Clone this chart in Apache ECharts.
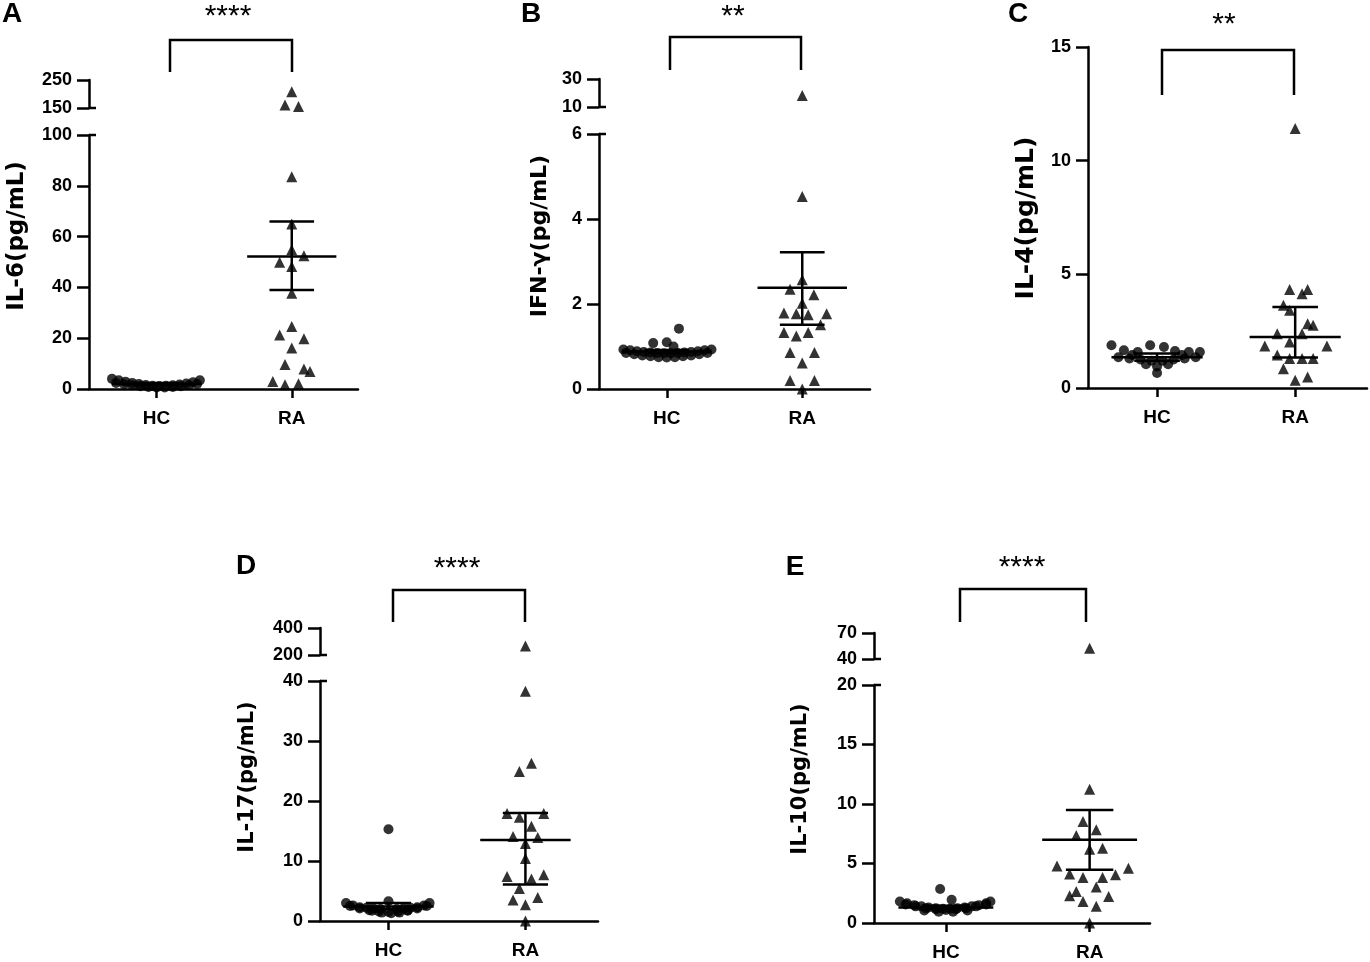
<!DOCTYPE html>
<html>
<head>
<meta charset="utf-8">
<script src="https://cdn.jsdelivr.net/npm/echarts@6.0.0/dist/echarts.min.js"></script>
<style>
  html, body { margin: 0; padding: 0; background: #fff; }
  #chart { width: 1370px; height: 962px; }
</style>
</head>
<body>
<div id="chart"></div>
<script>
  const groups = ['HC', 'RA']

  // ---- A: IL-6 ----
  const hcA = [4.0, 3.4, 2.9, 2.4, 2.0, 1.6, 1.3, 1.2, 1.3, 1.5, 1.8, 2.2, 2.7, 3.4,
    2.4, 1.9, 1.5, 1.1, 0.8, 0.6, 0.6, 0.8, 1.1, 1.5, 2.0]
  const hcAJitter = [-0.33, -0.28, -0.23, -0.18, -0.13, -0.08, -0.03, 0.02, 0.07, 0.12, 0.17, 0.22, 0.27, 0.32,
    -0.30, -0.24, -0.18, -0.12, -0.06, 0, 0.06, 0.12, 0.18, 0.24, 0.30]
  const raA = [208, 160.7, 155, 83.6, 65.0, 54.8, 49.9, 52.5, 48.2, 37.7, 21.3, 24.6, 19.8, 16.1, 9.6, 7.9, 6.9, 3.0, 1.7, 2.1]
  const raAJitter = [0, -0.05, 0.05, 0, 0, 0, -0.09, 0.09, 0, 0, -0.09, 0, 0.09, 0, -0.05, 0.09, 0.135, -0.14, -0.05, 0.05]
  const centerA = [2.0, 52.2]
  const lowA = [1.6, 39.0]
  const highA = [2.4, 65.9]
  const yTicksA = [0, 20, 40, 60, 80, 100]
  const yBreakTicksA = [150, 250]

  // ---- B: IFN-gamma ----
  const hcB = [0.93, 0.91, 0.89, 0.87, 0.86, 0.85, 0.84, 0.84, 0.85, 0.86, 0.87, 0.89, 0.91, 0.93,
    0.85, 0.82, 0.79, 0.77, 0.75, 0.74, 0.75, 0.77, 0.79, 0.82, 0.85,
    1.08, 1.10, 1.00, 1.42]
  const hcBJitter = [-0.32, -0.27, -0.22, -0.17, -0.12, -0.07, -0.02, 0.03, 0.08, 0.13, 0.18, 0.23, 0.28, 0.33,
    -0.30, -0.24, -0.18, -0.12, -0.06, 0, 0.06, 0.12, 0.18, 0.24, 0.30,
    -0.1, 0.0, 0.05, 0.09]
  const raB = [18.3, 4.53, 2.57, 2.35, 2.22, 2.02, 1.79, 1.77, 1.75, 1.77, 1.51, 1.33, 1.25, 1.33, 0.86, 0.86, 0.61, 0.20, 0.20, 0]
  const raBJitter = [0, 0, 0, -0.09, 0.086, 0, -0.135, -0.044, 0.044, 0.18, 0.135, -0.135, -0.044, 0.044, -0.09, 0.09, 0, -0.09, 0.09, 0]
  const centerB = [0.88, 2.38]
  const lowB = [0.84, 1.51]
  const highB = [0.92, 3.22]
  const yTicksB = [0, 2, 4, 6]
  const yBreakTicksB = [10, 30]

  // ---- C: IL-4 ----
  const hcC = [1.88, 1.66, 1.58, 1.88, 1.80, 1.63, 1.58, 1.58, 1.35, 1.30, 1.25, 1.20, 1.20, 1.25, 1.30, 1.35, 1.45, 1.45, 1.05, 0.95, 1.05, 0.66]
  const hcCJitter = [-0.33, -0.24, -0.14, -0.05, 0.05, 0.13, 0.23, 0.31, -0.28, -0.2, -0.12, -0.04, 0.04, 0.12, 0.2, 0.28, -0.18, 0.18, -0.08, 0, 0.08, 0]
  const raC = [11.41, 4.33, 4.33, 4.15, 3.64, 3.42, 2.83, 2.76, 2.39, 2.39, 2.02, 1.85, 1.85, 1.45, 1.30, 1.30, 1.30, 0.85, 0.34, 0.48]
  const raCJitter = [0, -0.04, 0.09, 0.05, -0.085, -0.04, 0.09, 0.13, -0.13, 0.05, -0.04, -0.22, 0.23, -0.13, -0.04, 0.05, 0.13, -0.085, 0, 0.09]
  const centerC = [1.35, 2.24]
  const lowC = [1.2, 1.34]
  const highC = [1.52, 3.56]
  const yTicksC = [0, 5, 10, 15]

  // ---- D: IL-17 ----
  const hcD = [3.0, 2.6, 2.3, 2.2, 2.1, 2.0, 3.3, 2.0, 2.1, 2.2, 2.3, 2.6, 3.0,
    2.5, 2.1, 1.8, 1.6, 1.5, 1.6, 1.8, 2.1, 2.5,
    1.7, 1.4, 1.3, 1.4, 1.7, 15.3]
  const hcDJitter = [-0.31, -0.26, -0.21, -0.16, -0.11, -0.06, 0, 0.06, 0.11, 0.16, 0.21, 0.26, 0.30,
    -0.28, -0.21, -0.14, -0.07, 0, 0.07, 0.14, 0.21, 0.28,
    -0.12, -0.05, 0.02, 0.08, 0.14, 0]
  const raD = [267, 38.3, 26.3, 24.9, 17.9, 17.9, 17.3, 15.8, 14.1, 13.9, 12.9, 10.4, 7.4, 7.7, 7.0, 5.4, 3.5, 3.9, 2.7, 0]
  const raDJitter = [0, 0, 0.044, -0.044, -0.134, 0.134, -0.044, 0.044, -0.09, 0.09, 0, 0, -0.134, 0.134, 0.044, -0.044, -0.09, 0.09, 0, 0]
  const centerD = [2.4, 13.5]
  const lowD = [2.0, 6.1]
  const highD = [3.0, 18.0]
  const yTicksD = [0, 10, 20, 30, 40]
  const yBreakTicksD = [200, 400]

  // ---- E: IL-10 ----
  const hcE = [1.8, 1.65, 1.5, 1.4, 1.3, 1.25, 1.2, 1.2, 1.25, 1.3, 1.4, 1.5, 1.65, 1.8,
    1.55, 1.4, 1.25, 1.15, 1.1, 1.15, 1.25, 1.4, 1.55,
    1.05, 0.95, 0.95, 1.05, 2.85, 1.96]
  const hcEJitter = [-0.32, -0.27, -0.22, -0.17, -0.12, -0.07, -0.02, 0.03, 0.08, 0.13, 0.18, 0.23, 0.28, 0.31,
    -0.28, -0.21, -0.14, -0.07, 0, 0.07, 0.14, 0.21, 0.28,
    -0.15, -0.05, 0.05, 0.15, -0.04, 0.04]
  const raE = [52.5, 11.24, 8.53, 7.83, 7.35, 6.2, 6.29, 4.8, 4.61, 4.11, 3.83, 3.83, 4.05, 3.02, 2.65, 2.29, 2.23, 1.81, 1.4, 0]
  const raEJitter = [0, 0, -0.046, 0.046, -0.093, 0, 0.09, -0.227, 0.27, -0.139, -0.046, 0.09, 0.18, 0.046, -0.093, -0.139, 0.132, -0.046, 0.046, 0]
  const centerE = [1.3, 7.0]
  const lowE = [1.2, 4.47]
  const highE = [1.45, 9.5]
  const yTicksE = [0, 5, 10, 15, 20]
  const yBreakTicksE = [40, 70]

  // layout of the five panels (pixels)
  const panels = [
    {letter: 'A', name: 'IL-6(pg/mL)', stars: '****', hc: hcA, hcJ: hcAJitter, ra: raA, raJ: raAJitter,
      center: centerA, low: lowA, high: highA, ticks: yTicksA, breakTicks: yBreakTicksA,
      x0: 89, x1: 358, xMax: 2.49, top: 135, bottom: 389, breakTop: 80, breakBottom: 108,
      nameAt: [17, 236], nameSize: 23, letterAt: [12, 14], starsAt: [228, 9], bracket: [170, 292, 40, 72]},
    {letter: 'B', name: 'IFN-γ(pg/mL)', stars: '**', hc: hcB, hcJ: hcBJitter, ra: raB, raJ: raBJitter,
      center: centerB, low: lowB, high: highB, ticks: yTicksB, breakTicks: yBreakTicksB,
      x0: 599, x1: 870, xMax: 2.5, top: 134, bottom: 389, breakTop: 79, breakBottom: 107,
      nameAt: [540, 236], nameSize: 22, letterAt: [531, 14], starsAt: [733, 9], bracket: [670, 801, 37, 70]},
    {letter: 'C', name: 'IL-4(pg/mL)', stars: '**', hc: hcC, hcJ: hcCJitter, ra: raC, raJ: raCJitter,
      center: centerC, low: lowC, high: highC, ticks: yTicksC, breakTicks: null,
      x0: 1088, x1: 1367, xMax: 2.52, top: 47, bottom: 388,
      nameAt: [1026, 218], nameSize: 25, letterAt: [1018, 14], starsAt: [1224, 17], bracket: [1162, 1294, 50, 95]},
    {letter: 'D', name: 'IL-17(pg/mL)', stars: '****', hc: hcD, hcJ: hcDJitter, ra: raD, raJ: raDJitter,
      center: centerD, low: lowD, high: highD, ticks: yTicksD, breakTicks: yBreakTicksD,
      x0: 320, x1: 598, xMax: 2.53, top: 681, bottom: 921, breakTop: 628, breakBottom: 655,
      nameAt: [248, 777], nameSize: 21, letterAt: [246, 566], starsAt: [457, 561], bracket: [393, 525, 590, 622]},
    {letter: 'E', name: 'IL-10(pg/mL)', stars: '****', hc: hcE, hcJ: hcEJitter, ra: raE, raJ: raEJitter,
      center: centerE, low: lowE, high: highE, ticks: yTicksE, breakTicks: yBreakTicksE,
      x0: 874, x1: 1150, xMax: 2.42, top: 685, bottom: 923, breakTop: 633, breakBottom: 659,
      nameAt: [801, 779], nameSize: 21, letterAt: [795, 567], starsAt: [1022, 560], bracket: [960, 1086, 589, 622]},
  ]

  const ink = '#000'
  const lw = 2.5
  const tickFont = {color: ink, fontFamily: '"Liberation Sans", Arial, sans-serif', fontWeight: 'bold', fontSize: 18}

  const renderSummary = (params, api) => {
    const x = api.value(0)
    const seg = (xa, ya, xb, yb) => {
      const p0 = api.coord([xa, ya])
      const p1 = api.coord([xb, yb])
      return {type: 'line', shape: {x1: p0[0], y1: p0[1], x2: p1[0], y2: p1[1]}, style: {stroke: ink, lineWidth: lw}}
    }
    const c = api.value(1), lo = api.value(2), hi = api.value(3)
    return {
      type: 'group',
      children: [
        seg(x - 0.33, c, x + 0.33, c),
        seg(x - 0.165, lo, x + 0.165, lo),
        seg(x - 0.165, hi, x + 0.165, hi),
        seg(x, lo, x, hi),
      ],
    }
  }

  const yAxisStyle = ticks => ({
    axisLine: {show: true, onZero: false, lineStyle: {color: ink, width: lw}},
    axisTick: {show: true, customValues: ticks, length: 12, lineStyle: {color: ink, width: lw}},
    axisLabel: {...tickFont, customValues: ticks, margin: 17},
    splitLine: {show: false},
  })

  const grid = []
  const xAxis = []
  const yAxis = []
  const series = []
  const graphic = []

  panels.forEach(p => {
    const mainMin = p.ticks[0]
    const mainMax = p.ticks[p.ticks.length - 1]
    const g = grid.length
    grid.push({left: p.x0, top: p.top, width: p.x1 - p.x0, height: p.bottom - p.top, containLabel: false, outerBoundsMode: 'none'})
    xAxis.push({
      gridIndex: g, type: 'value', min: 0.5, max: p.xMax,
      axisLine: {show: true, onZero: false, lineStyle: {color: ink, width: lw}},
      axisTick: {show: true, customValues: [1, 2], length: 9, lineStyle: {color: ink, width: lw}},
      axisLabel: {...tickFont, fontSize: 19, customValues: [1, 2], margin: 20, formatter: v => groups[Math.round(v) - 1]},
      splitLine: {show: false},
    })
    yAxis.push({gridIndex: g, type: 'value', min: mainMin, max: mainMax, ...yAxisStyle(p.ticks)})

    const hcPts = p.hc.map((v, i) => [1 + p.hcJ[i], v])
    const raPts = p.ra.map((v, i) => [2 + p.raJ[i], v])
    series.push({type: 'scatter', xAxisIndex: g, yAxisIndex: g, symbol: 'circle', symbolSize: 10, clip: false,
      itemStyle: {color: ink}, data: hcPts.filter(d => d[1] <= mainMax), silent: true})
    series.push({type: 'scatter', xAxisIndex: g, yAxisIndex: g, symbol: 'triangle', symbolSize: 11, clip: false,
      itemStyle: {color: ink}, data: raPts.filter(d => d[1] <= mainMax), silent: true})
    series.push({type: 'custom', xAxisIndex: g, yAxisIndex: g, renderItem: renderSummary, clip: false, silent: true,
      data: [0, 1].map(i => [i + 1, p.center[i], p.low[i], p.high[i]])})

    if (p.breakTicks) {
      const b = grid.length
      grid.push({left: p.x0, top: p.breakTop, width: p.x1 - p.x0, height: p.breakBottom - p.breakTop, containLabel: false, outerBoundsMode: 'none'})
      xAxis.push({gridIndex: b, type: 'value', min: 0.5, max: p.xMax, show: false})
      yAxis.push({gridIndex: b, type: 'value', min: p.breakTicks[0], max: p.breakTicks[1], ...yAxisStyle(p.breakTicks)})
      series.push({type: 'scatter', xAxisIndex: b, yAxisIndex: b, symbol: 'triangle', symbolSize: 11, clip: false,
        itemStyle: {color: ink}, data: raPts.filter(d => d[1] > mainMax), silent: true})
      // little stubs at both sides of the axis break
      ;[p.top, p.breakBottom].forEach(y => graphic.push({type: 'line',
        shape: {x1: p.x0, y1: y, x2: p.x0 + 7, y2: y}, style: {stroke: ink, lineWidth: lw}}))
    }

    const [bl, br, bt, bb] = p.bracket
    graphic.push({type: 'polyline', shape: {points: [[bl, bb], [bl, bt], [br, bt], [br, bb]]},
      style: {stroke: ink, lineWidth: lw, fill: null}})
    graphic.push({type: 'text', x: p.starsAt[0], y: p.starsAt[1] + 8,
      style: {text: p.stars, font: '30px "Liberation Sans", Arial, sans-serif', fill: ink,
        textAlign: 'center', textVerticalAlign: 'middle', align: 'center', verticalAlign: 'middle'}})
    graphic.push({type: 'text', x: p.letterAt[0], y: p.letterAt[1],
      style: {text: p.letter, font: 'bold 28px "Liberation Sans", Arial, sans-serif', fill: ink,
        textAlign: 'center', textVerticalAlign: 'middle', align: 'center', verticalAlign: 'middle'}})
    graphic.push({type: 'text', x: p.nameAt[0], y: p.nameAt[1], rotation: Math.PI / 2,
      style: {text: p.name, font: `bold ${p.nameSize}px "DejaVu Sans", sans-serif`, fill: ink,
        textAlign: 'center', textVerticalAlign: 'middle', align: 'center', verticalAlign: 'middle'}})
  })

  const chart = echarts.init(document.getElementById('chart'), null, {renderer: 'canvas'})
  chart.setOption({
    animation: false,
    backgroundColor: '#fff',
    grid,
    xAxis,
    yAxis,
    series,
    graphic,
  })
</script>
</body>
</html>
